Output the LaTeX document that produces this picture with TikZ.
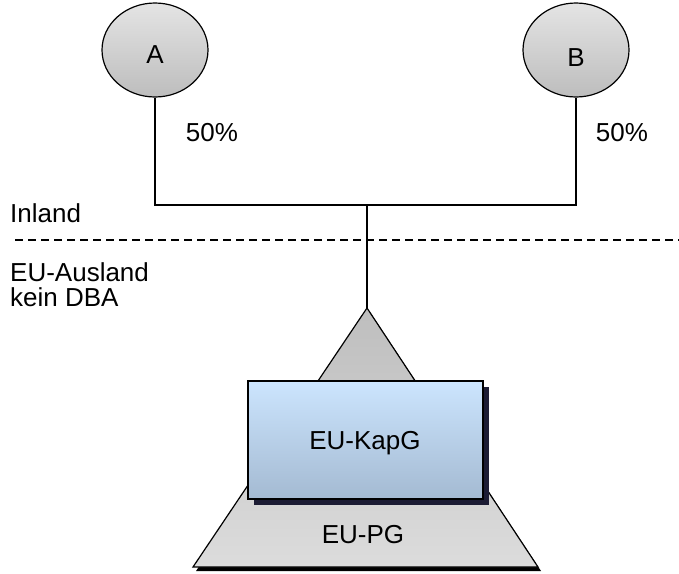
\documentclass[tikz,border=0pt]{standalone}
\usepackage{fontspec}
\setmainfont{Liberation Sans}
\usetikzlibrary{shapes.geometric}
\definecolor{ballTop}{HTML}{E4E4E4}
\definecolor{ballBot}{HTML}{BDBDBD}
\definecolor{pyrTop}{HTML}{BEBEBE}
\definecolor{pyrBot}{HTML}{DCDCDC}
\definecolor{boxTop}{HTML}{CCE5FE}
\definecolor{boxBot}{HTML}{A4BAD2}
\definecolor{boxShade}{HTML}{1C1C34}
\begin{document}
\begin{tikzpicture}[x=1pt,y=-1pt,
  every node/.style={font=\fontsize{26}{31}\selectfont},
  owner/.style={ellipse, draw, line width=1.2pt, minimum width=106pt, minimum height=94pt,
    top color=ballTop, bottom color=ballBot, inner sep=0pt},
  wire/.style={line width=1.2pt},
  lbl/.style={anchor=west, inner sep=0pt}]
\useasboundingbox (0,0) rectangle (679,573);

% shareholders
\node[owner] (A) at (155,50) {};
\node at (155,55) {A};
\node[owner] (B) at (576,50) {};
\node at (576,58) {B};

\node (pA) at (212,133) {50\%};
\node (pB) at (622,133) {50\%};

% border between domestic and foreign
\node[lbl] (inl) at (10,213) {Inland};
\draw[line width=1.2pt, dash pattern=on 8pt off 5pt] (15,240) -- (679,240);
\node[lbl] (eua) at (10,272) {EU-Ausland};
\node[lbl] (dba) at (10,297) {kein DBA};

% partnership (pyramid) with shadow
\coordinate (apex) at (367,308);
\fill[black] (370,312) -- (541,571) -- (196,571) -- cycle;
\draw[line width=1.2pt, top color=pyrTop, bottom color=pyrBot]
  (apex) -- (538,567) -- (193,567) -- cycle;
\node (pg) at (363,535) {EU-PG};

% corporation box with shadow
\fill[boxShade] (254,387) rectangle (489,505);
\node[draw, line width=1.2pt, top color=boxTop, bottom color=boxBot,
  minimum width=235pt, minimum height=118pt, inner sep=0pt] (kap) at (365.5,440) {};
\node at (365,443) {EU-KapG};

% ownership lines
\coordinate (j) at (367,205);
\draw[wire] (A.south) |- (j) -| (B.south);
\draw[wire] (j) -- (apex);
\end{tikzpicture}
\end{document}
